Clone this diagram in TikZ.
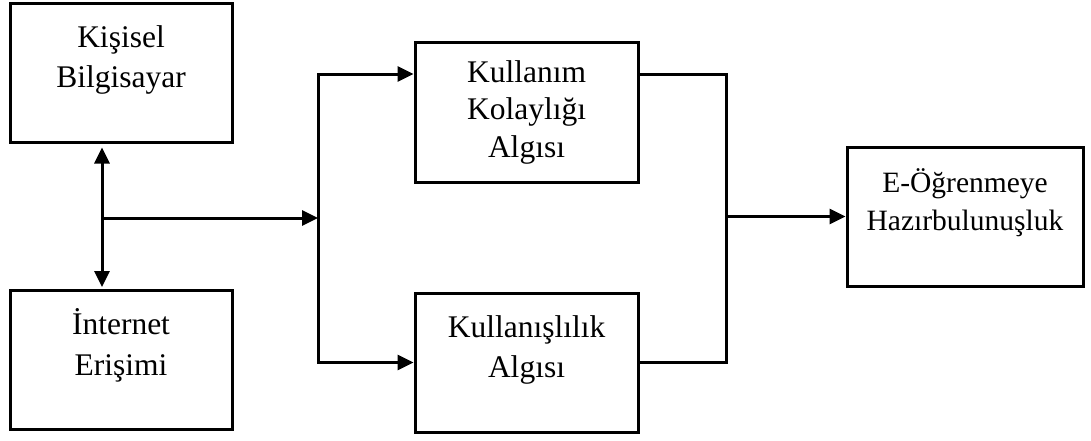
\documentclass[tikz,border=0pt]{standalone}
\usepackage{fontspec}
\setmainfont{Liberation Serif}
\usetikzlibrary{arrows.meta}
\begin{document}
\begin{tikzpicture}[x=1pt,y=-1pt,
  box/.style={draw, line width=3pt, rectangle, inner sep=0pt},
  lbl/.style={anchor=base, inner sep=0pt, font=\fontsize{31.5}{38}\selectfont},
  lblsm/.style={anchor=base, inner sep=0pt, font=\fontsize{29.5}{36}\selectfont},
  wire/.style={line width=3pt},
  tip/.style={Triangle[length=16pt,width=15pt]},
  arr/.style={line width=3pt, -{Triangle[length=16pt,width=15pt]}},
  darr/.style={line width=3pt, {Triangle[length=16pt,width=15pt]}-{Triangle[length=16pt,width=15pt]}}]
\useasboundingbox (0,0) rectangle (1091,440);

% boxes
\node[box, minimum width=222pt, minimum height=139pt] (b1) at (121,72.5) {};
\node[box, minimum width=222pt, minimum height=139pt] (b2) at (121,359.5) {};
\node[box, minimum width=223pt, minimum height=140pt] (b3) at (526.5,112) {};
\node[box, minimum width=223pt, minimum height=139pt] (b4) at (526.5,362.5) {};
\node[box, minimum width=236pt, minimum height=139pt] (b5) at (965,216.5) {};

% labels
\node[lbl] (t1a) at (121,47) {Kişisel};
\node[lbl] (t1b) at (121,87) {Bilgisayar};
\node[lbl] (t2a) at (121,334) {İnternet};
\node[lbl] (t2b) at (121,375) {Erişimi};
\node[lbl] (t3a) at (526.5,82) {Kullanım};
\node[lbl] (t3b) at (526.5,119.5) {Kolaylığı};
\node[lbl] (t3c) at (526.5,157) {Algısı};
\node[lbl] (t4a) at (526.5,337) {Kullanışlılık};
\node[lbl] (t4b) at (526.5,377) {Algısı};
\node[lblsm] (t5a) at (965,192) {E-Öğrenmeye};
\node[lblsm] (t5b) at (965,230) {Hazırbulunuşluk};

% junction points
\coordinate (j) at (102,218);
\coordinate (s) at (318,218);
\coordinate (u) at (318,74);
\coordinate (m) at (726,216.5);

% connectors
\draw[darr, shorten <=4pt, shorten >=1.5pt] (j |- b1.south) -- (j |- b2.north);
\draw[arr] (j) -- (s);
\draw[arr] (s) -- (u) -- (u -| b3.west);
\draw[arr] (s) |- (b4.west);
\draw[wire] (b3.east |- u) -| (m) |- (b4.east);
\draw[arr] (m) -- (b5.west);
\end{tikzpicture}
\end{document}
